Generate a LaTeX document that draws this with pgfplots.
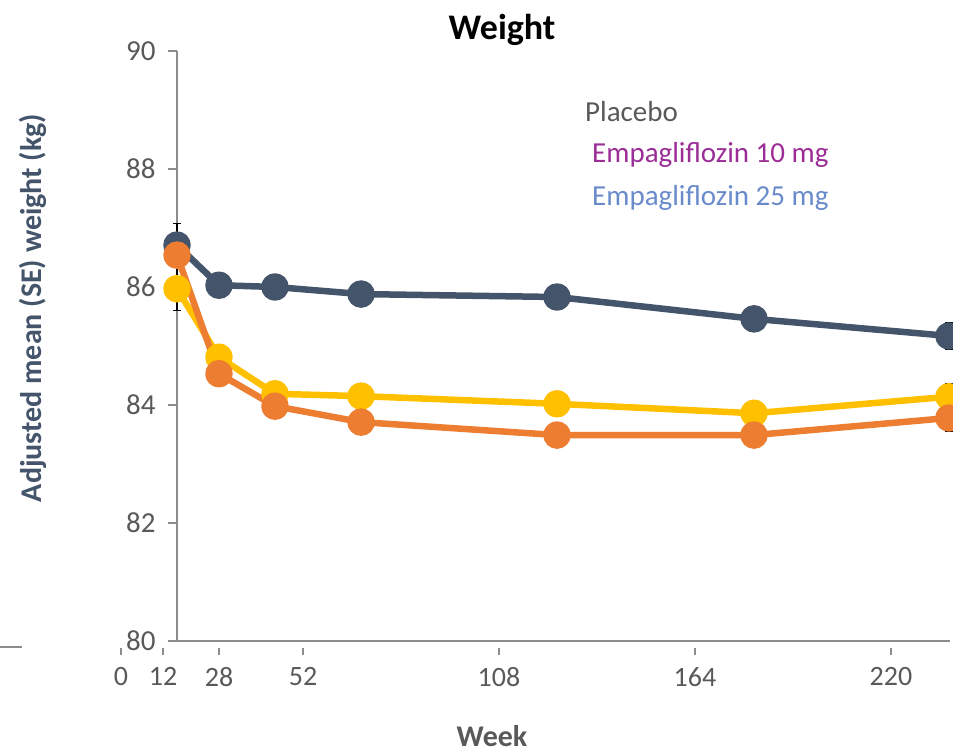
\documentclass[border=0pt]{standalone}
\usepackage{fontspec}
\setmainfont{Carlito}
\usepackage{pgfplots}
\usepackage{pgfplotstable}
\pgfplotsset{compat=1.18}
\definecolor{plac}{HTML}{44546A}
\definecolor{e10}{HTML}{ED7D31}
\definecolor{e25}{HTML}{FFC000}
\definecolor{txt}{HTML}{595959}
\definecolor{axl}{HTML}{8C8C8C}
\definecolor{lgten}{HTML}{9B2D96}
\definecolor{lgtwf}{HTML}{6A8BCB}

% week, adjusted mean, SE
\pgfplotstableread{
w m e
16 86.71 0.37
28 86.03 0.15
44 86.00 0.15
68.6 85.88 0.15
124.6 85.83 0.15
180.9 85.46 0.15
236.6 85.17 0.23
}\placebo
\pgfplotstableread{
w m e
16 85.97 0.37
28 84.81 0.15
44 84.19 0.15
68.6 84.15 0.15
124.6 84.02 0.15
180.9 83.86 0.15
236.6 84.14 0.22
}\empatf
\pgfplotstableread{
w m e
16 86.54 0.37
28 84.53 0.15
44 83.98 0.15
68.6 83.71 0.15
124.6 83.49 0.15
180.9 83.49 0.15
236.6 83.78 0.22
}\empaten

\begin{document}
\begin{tikzpicture}
\begin{axis}[
  at={(0,0)}, anchor=south west,
  width=773pt, height=590pt, scale only axis,
  xmin=16, xmax=236.9, ymin=80, ymax=90,
  axis x line=bottom, axis y line=left,
  axis line style={-, draw=axl, line width=1.2pt},
  every outer x axis line/.append style={-},
  every outer y axis line/.append style={-},
  xtick=\empty,
  ytick={80,82,...,90},
  tick align=outside, major tick length=9pt,
  tick style={draw=axl, line width=1.2pt},
  y tick label style={font=\fontsize{29}{32}\selectfont, text=txt, xshift=-9pt},
  /pgf/number format/assume math mode=true,
  clip=false,
]
\addplot[draw=none, forget plot, error bars/.cd, y dir=both, y explicit,
  error bar style={draw=black, line width=1.2pt},
  error mark options={rotate=90, draw=black, mark size=4pt, line width=1.2pt}]
  table[x=w, y=m, y error=e] {\placebo};
\addplot[draw=none, forget plot, error bars/.cd, y dir=both, y explicit,
  error bar style={draw=black, line width=1.2pt},
  error mark options={rotate=90, draw=black, mark size=4pt, line width=1.2pt}]
  table[x=w, y=m, y error=e] {\empatf};
\addplot[draw=none, forget plot, error bars/.cd, y dir=both, y explicit,
  error bar style={draw=black, line width=1.2pt},
  error mark options={rotate=90, draw=black, mark size=4pt, line width=1.2pt}]
  table[x=w, y=m, y error=e] {\empaten};

\addplot[plac, line width=6.5pt, line join=round, mark=*, mark size=10.5pt,
  mark options={solid, fill=plac, draw=none}] table[x=w, y=m] {\placebo};
\addplot[e25, line width=6.5pt, line join=round, mark=*, mark size=10.5pt,
  mark options={solid, fill=e25, draw=none}] table[x=w, y=m] {\empatf};
\addplot[e10, line width=6.5pt, line join=round, mark=*, mark size=10.5pt,
  mark options={solid, fill=e10, draw=none}] table[x=w, y=m] {\empaten};
\end{axis}

% week labels
\begin{axis}[
  at={(-56pt,-7pt)}, anchor=south west,
  width=770pt, height=100pt, scale only axis,
  xmin=0, xmax=220, ymin=0, ymax=1,
  axis x line=bottom, axis y line=none,
  x axis line style={draw=none},
  ytick=\empty,
  xtick={0,12,28,52,108,164,220},
  tick align=outside, major tick length=7pt,
  tick style={draw=axl, line width=1.2pt},
  x tick label style={font=\fontsize{28}{31}\selectfont, text=txt, yshift=-9pt},
  /pgf/number format/assume math mode=true,
]
\end{axis}

\draw[axl, line width=1.2pt] (-177pt,-6pt) -- (-155pt,-6pt);

\node[font=\fontsize{36}{40}\selectfont\bfseries] at (325pt,611pt) {Weight};
\node[font=\fontsize{30}{34}\selectfont\bfseries, text=plac, rotate=90] at (-144pt,333pt) {Adjusted mean (SE) weight (kg)};
\node[font=\fontsize{30}{34}\selectfont\bfseries, text=txt, inner sep=0pt] at (315pt,-95pt) {Week};

\node[font=\fontsize{29}{32}\selectfont, text=txt, anchor=west, inner sep=0pt] at (408pt,529pt) {Placebo};
\node[font=\fontsize{29}{32}\selectfont, text=lgten, anchor=west, inner sep=0pt] at (415pt,486pt) {Empagliflozin 10 mg};
\node[font=\fontsize{29}{32}\selectfont, text=lgtwf, anchor=west, inner sep=0pt] at (415pt,443pt) {Empagliflozin 25 mg};

\pgfresetboundingbox
\path[use as bounding box] (-177pt,-110pt) rectangle (776pt,641pt);
\end{tikzpicture}
\end{document}
